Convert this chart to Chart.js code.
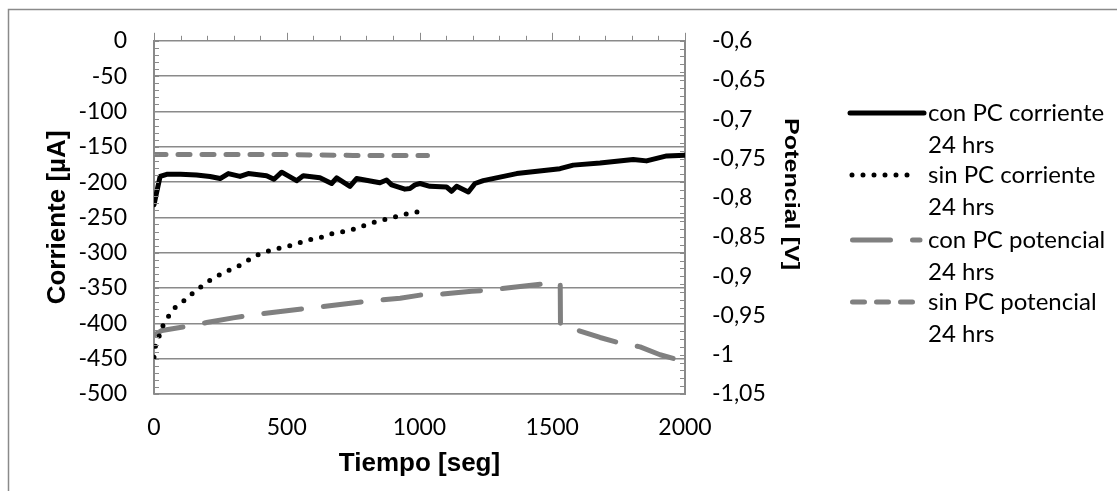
<!DOCTYPE html>
<html>
<head>
<meta charset="utf-8">
<script src="https://cdn.jsdelivr.net/npm/chart.js@4.4.1/dist/chart.umd.min.js"></script>
<style>
  html, body { margin: 0; padding: 0; background: #fff; }
  #wrap { width: 1117px; height: 491px; }
</style>
</head>
<body>
<div id="wrap"><canvas id="chart" width="1117" height="491"></canvas></div>
<script>
// --- datos ---
const seriesNames = ['con PC corriente', 'sin PC corriente', 'con PC potencial', 'sin PC potencial'];
const legendSecondLine = '24 hrs';

// con PC corriente (eje izquierdo, µA)
const tConCorr = [0, 8, 23, 48, 100, 160, 211, 249, 280, 324, 355, 424, 452, 481, 537, 562, 625, 669, 688, 738, 763, 851, 876, 895, 945, 964, 983, 1002, 1039, 1102, 1121, 1140, 1184, 1209, 1240, 1366, 1529, 1579, 1680, 1805, 1855, 1931, 2000];
const iConCorr = [-232, -218, -192, -189, -189, -190, -192, -195, -188, -192, -188, -191, -196, -186, -198, -191, -194, -202, -194, -206, -195, -201, -197, -204, -210, -209, -204, -202, -206, -207, -213, -206, -214, -202, -198, -188, -181, -176, -173, -168, -170, -163, -162];

// sin PC corriente (eje izquierdo, µA)
const tSinCorr = [0, 5, 34, 53, 72, 98, 128, 151, 185, 222, 260, 297, 335, 373, 411, 452, 493, 535, 576, 618, 659, 704, 749, 787, 829, 870, 912, 953, 994, 1010];
const iSinCorr = [-448, -433, -403, -391, -380, -372, -364, -355, -346, -336, -329, -322, -316, -306, -300, -295, -292, -288, -282, -280, -274, -271, -267, -262, -257, -253, -249, -245, -242, -240];

// con PC potencial (eje derecho, V)
const tConPot = [0, 30, 123, 198, 298, 399, 524, 599, 801, 927, 1002, 1077, 1196, 1253, 1460, 1530, 1531, 1579, 1680, 1743, 1831, 1906, 2000];
const vConPot = [-0.975, -0.969, -0.964, -0.959, -0.953, -0.948, -0.943, -0.940, -0.932, -0.928, -0.924, -0.923, -0.919, -0.918, -0.910, -0.909, -0.963, -0.967, -0.978, -0.984, -0.990, -1.000, -1.009];

// sin PC potencial (eje derecho, V)
const tSinPot = [0, 250, 500, 750, 1030];
const vSinPot = [-0.745, -0.745, -0.745, -0.746, -0.746];

const GRIS = '#8a8a8a';
const GRIS_SERIE = '#808080';

function pts(xs, ys) {
  return xs.map((x, i) => ({ x: x, y: ys[i] }));
}

function fmtComa(v) {
  return String(Math.round(v * 100) / 100).replace('.', ',');
}

function textoVertical(ctx, txt, x, y, ang, font, largo) {
  ctx.save();
  ctx.translate(x, y);
  ctx.rotate(ang);
  ctx.font = font;
  if (largo) ctx.scale(largo / ctx.measureText(txt).width, 1);
  ctx.fillStyle = '#000';
  ctx.textAlign = 'center';
  ctx.textBaseline = 'middle';
  ctx.fillText(txt, 0, 0);
  ctx.restore();
}

// --- decoración: marco, marcas menores, títulos verticales y leyenda ---
const decor = {
  id: 'decor',
  beforeDraw(chart) {
    const ctx = chart.ctx;
    ctx.save();
    ctx.fillStyle = '#fff';
    ctx.fillRect(0, 0, chart.width, chart.height);
    ctx.strokeStyle = GRIS;
    ctx.lineWidth = 1.5;
    ctx.strokeRect(8.5, 9.5, 1400, 800);
    ctx.restore();
  },
  afterDraw(chart) {
    const ctx = chart.ctx;
    const a = chart.chartArea;
    const sx = chart.scales.x, sy = chart.scales.y, sy2 = chart.scales.y2;
    ctx.save();

    // marcas menores
    ctx.strokeStyle = GRIS;
    ctx.lineWidth = 1;
    ctx.beginPath();
    for (let v = -500; v <= 0; v += 10) {
      const y = Math.round(sy.getPixelForValue(v)) + 0.5;
      ctx.moveTo(a.left, y); ctx.lineTo(a.left + 5, y);
    }
    for (let k = -105; k <= -60; k++) {
      const y = Math.round(sy2.getPixelForValue(k / 100)) + 0.5;
      ctx.moveTo(a.right - 5, y); ctx.lineTo(a.right, y);
    }
    for (let t = 0; t <= 2000; t += 100) {
      const x = Math.round(sx.getPixelForValue(t)) + 0.5;
      ctx.moveTo(x, a.top); ctx.lineTo(x, a.top - (t % 500 === 0 ? 8 : 5));
    }
    ctx.stroke();

    // títulos de los ejes verticales
    textoVertical(ctx, 'Corriente [µA]', 58, (a.top + a.bottom) / 2, -Math.PI / 2, 'bold 26px "Liberation Sans"', 0);
    textoVertical(ctx, 'Potencial [V]', 791, 194, Math.PI / 2, 'bold 20px "Liberation Sans"', 152);

    // leyenda
    const y0 = [113, 175, 240, 302];
    const xEnds = [[850, 924], [852, 910], [852.5, 920], [852.5, 912.5]];
    chart.data.datasets.forEach((ds, i) => {
      ctx.save();
      ctx.strokeStyle = ds.borderColor;
      ctx.lineWidth = ds.borderWidth;
      ctx.lineCap = ds.borderCapStyle || 'butt';
      ctx.setLineDash(ds.borderDash || []);
      ctx.beginPath();
      ctx.moveTo(xEnds[i][0], y0[i]);
      ctx.lineTo(xEnds[i][1], y0[i]);
      ctx.stroke();
      ctx.restore();
      ctx.fillStyle = '#000';
      ctx.font = '24px Lato';
      ctx.textAlign = 'left';
      ctx.textBaseline = 'middle';
      ctx.fillText(ds.label, 928, y0[i]);
      ctx.fillText(legendSecondLine, 928, y0[i] + 32);
    });
    ctx.restore();
  }
};

Chart.defaults.font.family = 'Lato';
Chart.defaults.color = '#000';

new Chart(document.getElementById('chart'), {
  type: 'line',
  data: {
    datasets: [
      {
        label: seriesNames[0], data: pts(tConCorr, iConCorr), yAxisID: 'y',
        borderColor: '#000', borderWidth: 5, borderJoinStyle: 'round', borderCapStyle: 'round'
      },
      {
        label: seriesNames[1], data: pts(tSinCorr, iSinCorr), yAxisID: 'y',
        borderColor: '#000', borderWidth: 5, borderDash: [0, 11], borderCapStyle: 'round'
      },
      {
        label: seriesNames[2], data: pts(tConPot, vConPot), yAxisID: 'y2',
        borderColor: GRIS_SERIE, borderWidth: 5, borderDash: [38, 22], borderDashOffset: 7.5,
        borderCapStyle: 'round', borderJoinStyle: 'round'
      },
      {
        label: seriesNames[3], data: pts(tSinPot, vSinPot), yAxisID: 'y2',
        borderColor: GRIS_SERIE, borderWidth: 5, borderDash: [12, 12], borderCapStyle: 'round'
      }
    ]
  },
  options: {
    responsive: false,
    animation: false,
    layout: { padding: { top: 38, right: 302, left: 0, bottom: 0 } },
    elements: { point: { radius: 0 }, line: { tension: 0 } },
    plugins: { legend: { display: false }, tooltip: { enabled: false } },
    scales: {
      x: {
        type: 'linear', min: 0, max: 2000,
        ticks: { stepSize: 500, padding: 20, font: { size: 23 }, callback: (v) => String(v) },
        grid: { display: false, drawTicks: false },
        border: { display: true, color: GRIS, width: 1.5 },
        title: {
          display: true, text: 'Tiempo [seg]',
          font: { family: '"Liberation Sans"', weight: 'bold', size: 26 },
          padding: { top: 0, bottom: 12 }
        },
        afterFit(s) { s.height = 97; }
      },
      y: {
        position: 'left', min: -500, max: 0,
        ticks: { stepSize: 50, padding: 27, font: { size: 23 } },
        grid: { color: GRIS, lineWidth: 1.5, drawTicks: false },
        border: { display: true, color: GRIS, width: 2 },
        afterFit(s) { s.width = 154; }
      },
      y2: {
        position: 'right', min: -1.05, max: -0.6,
        ticks: { stepSize: 0.05, padding: 27, font: { size: 23 }, callback: (v) => fmtComa(v) },
        grid: { display: false, drawTicks: false },
        border: { display: true, color: GRIS, width: 2 },
        afterFit(s) { s.width = 130; }
      }
    }
  },
  plugins: [decor]
});
</script>
</body>
</html>
